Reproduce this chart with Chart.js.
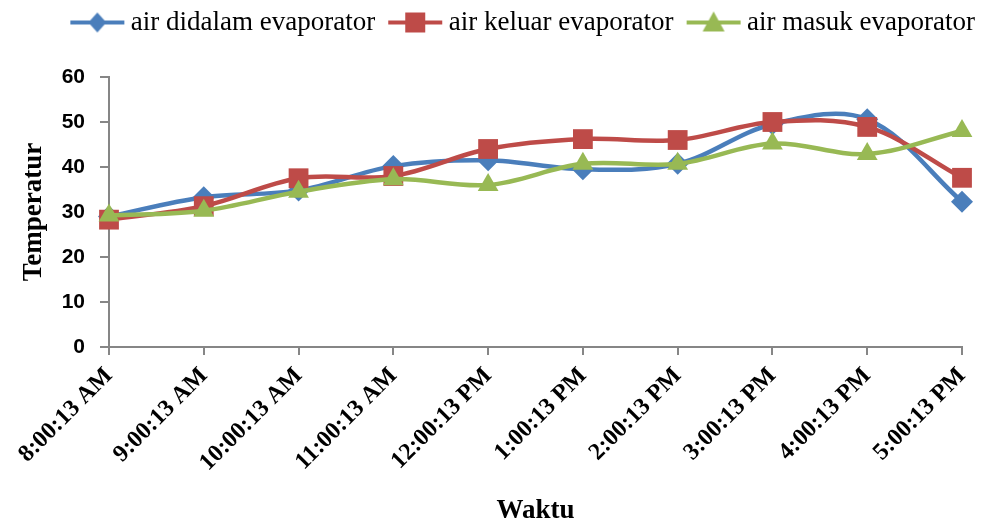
<!DOCTYPE html>
<html>
<head>
<meta charset="utf-8">
<script src="https://cdn.jsdelivr.net/npm/chart.js@4"></script>
<style>
  html, body { margin: 0; padding: 0; background: #ffffff; }
  #wrap { width: 981px; height: 527px; }
</style>
</head>
<body>
<div id="wrap"><canvas id="c" width="981" height="527"></canvas></div>
<script>
// Time of each reading
const categories = ['8:00:13 AM', '9:00:13 AM', '10:00:13 AM', '11:00:13 AM', '12:00:13 PM',
                    '1:00:13 PM', '2:00:13 PM', '3:00:13 PM', '4:00:13 PM', '5:00:13 PM'];

// Water temperature readings
const airDidalam = [29.0, 33.3, 34.8, 40.2, 41.5, 39.5, 40.7, 49.5, 50.6, 32.3];
const airKeluar  = [28.3, 31.3, 37.5, 38.0, 44.0, 46.2, 46.0, 50.0, 48.9, 37.6];
const airMasuk   = [29.2, 30.3, 34.5, 37.3, 36.0, 40.7, 40.7, 45.2, 42.9, 48.0];

const yTicks = [0, 10, 20, 30, 40, 50, 60];

const BLUE = '#4a7ebb', RED = '#be4b48', GREEN = '#98b954';
const SERIF = '"Liberation Serif", "Times New Roman", serif';
const SANS = '"Liberation Sans", Arial, sans-serif';

// Legend symbol: a short line with the series marker in the middle
function legendSymbol(color, style) {
  const cv = document.createElement('canvas');
  cv.width = 56; cv.height = 26;
  const g = cv.getContext('2d');
  g.strokeStyle = color; g.lineWidth = 4;
  g.beginPath(); g.moveTo(1, 13); g.lineTo(55, 13); g.stroke();
  g.fillStyle = color;
  g.beginPath();
  if (style === 'diamond') {
    g.moveTo(28, 3); g.lineTo(37, 13); g.lineTo(28, 23); g.lineTo(19, 13);
  } else if (style === 'square') {
    g.rect(18, 3, 20, 20);
  } else {
    g.moveTo(28, 2); g.lineTo(39, 22); g.lineTo(17, 22);
  }
  g.closePath(); g.fill();
  return cv;
}

const symbols = [legendSymbol(BLUE, 'diamond'), legendSymbol(RED, 'square'), legendSymbol(GREEN, 'triangle')];

// Extra room under the legend
const legendGap = {
  id: 'legendGap',
  beforeInit(chart) {
    const fit = chart.legend.fit;
    chart.legend.fit = function () {
      fit.call(this);
      this.height += 31;
    };
  }
};

new Chart(document.getElementById('c'), {
  type: 'line',
  data: {
    labels: categories,
    datasets: [
      { label: 'air didalam evaporator', data: airDidalam, borderColor: BLUE, backgroundColor: BLUE,
        pointStyle: 'rectRot', pointRadius: 11, order: 3 },
      { label: 'air keluar evaporator', data: airKeluar, borderColor: RED, backgroundColor: RED,
        pointStyle: 'rect', pointRadius: 14, order: 2 },
      { label: 'air masuk evaporator', data: airMasuk, borderColor: GREEN, backgroundColor: GREEN,
        pointStyle: 'triangle', pointRadius: 12, order: 1 }
    ]
  },
  plugins: [legendGap],
  options: {
    responsive: false,
    animation: false,
    layout: { padding: { left: 8, right: -14, top: -11, bottom: 0 } },
    elements: {
      line: { borderWidth: 4.5, tension: 0.35, fill: false },
      point: { borderWidth: 0, hoverRadius: 11 }
    },
    plugins: {
      tooltip: { enabled: false },
      legend: {
        position: 'top',
        align: 'end',
        labels: {
          usePointStyle: true,
          pointStyleWidth: 40,
          color: '#000',
          padding: 20,
          font: { family: SERIF, size: 27 },
          generateLabels: (chart) => chart.data.datasets.map((ds, i) => ({
            text: ds.label,
            fillStyle: ds.borderColor,
            strokeStyle: ds.borderColor,
            lineWidth: 0,
            pointStyle: symbols[i],
            datasetIndex: i,
            hidden: false
          }))
        }
      }
    },
    scales: {
      x: {
        offset: false,
        afterFit: (axis) => { axis.height = 180; axis.paddingRight = 0; },
        grid: { display: true, drawOnChartArea: false, drawTicks: true, tickLength: 8, color: '#868686', lineWidth: 2 },
        border: { display: true, color: '#868686', width: 2 },
        ticks: {
          color: '#000',
          maxRotation: 45, minRotation: 45,
          padding: 7,
          font: { family: SERIF, size: 24, weight: 'bold' }
        },
        title: {
          display: true, text: 'Waktu', color: '#000',
          padding: { top: 0, bottom: 0 },
          font: { family: SERIF, size: 27, weight: 'bold' }
        }
      },
      y: {
        min: 0, max: 60,
        afterBuildTicks: (axis) => { axis.ticks = yTicks.map(v => ({ value: v })); },
        afterFit: (axis) => { axis.width = 101; },
        grid: { display: true, drawOnChartArea: false, drawTicks: true, tickLength: 9, color: '#868686', lineWidth: 2 },
        border: { display: true, color: '#868686', width: 2 },
        ticks: {
          color: '#000',
          padding: 15,
          font: { family: SANS, size: 21, weight: 'bold' }
        },
        title: {
          display: true, text: 'Temperatur', color: '#000',
          padding: { top: 10, bottom: 0 },
          font: { family: SERIF, size: 27, weight: 'bold' }
        }
      },
      yRight: {
        position: 'right',
        display: true,
        afterFit: (axis) => { axis.width = 33; },
        grid: { display: false },
        border: { display: false },
        ticks: { display: false }
      }
    }
  }
});
</script>
</body>
</html>
